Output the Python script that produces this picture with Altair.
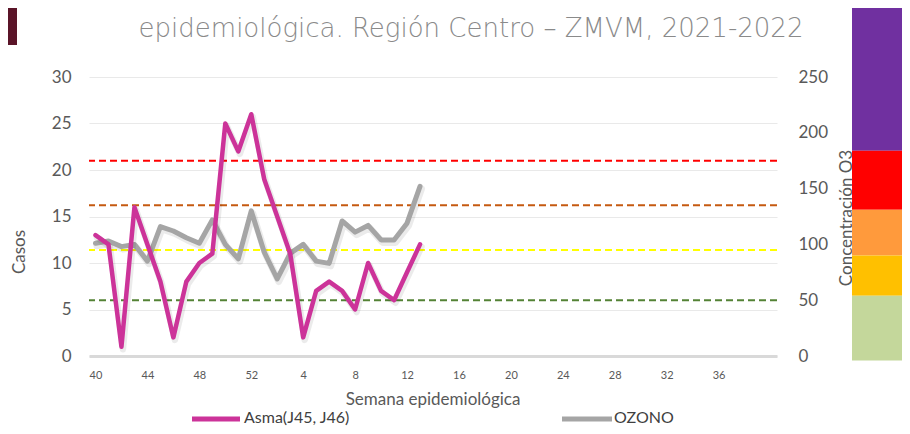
import altair as alt
import pandas as pd

# ---------------- data ----------------
weeks = [40, 41, 42, 43, 44, 45, 46, 47, 48, 49, 50, 51, 52, 1, 2, 3, 4, 5, 6, 7, 8, 9, 10, 11, 12, 13]
asma = [13, 12, 1, 16, 12, 8, 2, 8, 10, 11, 25, 22, 26, 19, 15, 11, 2, 7, 8, 7, 5, 10, 7, 6, 9, 12]
ozono = [101, 103, 98, 100, 85, 116, 112, 106, 101, 122, 100, 87, 130, 93, 69, 92, 100, 85, 83, 121, 111, 117, 104, 104, 119, 152]

umbral_valores = [175, 135, 95, 50]
umbral_colores = ["#FF0000", "#C55A11", "#FFFF00", "#548235"]

barra_arriba = [313, 184, 131, 90, 54]
barra_abajo = [184, 131, 90, 54, -4]
barra_colores = ["#7030A0", "#FF0000", "#FF9A3C", "#FFC000", "#C4D79B"]

x_ticks = [0, 4, 8, 12, 16, 20, 24, 28, 32, 36, 40, 44, 48]
casos_ticks = [0, 5, 10, 15, 20, 25, 30]
ozono_ticks = [0, 50, 100, 150, 200, 250]

titulo = "epidemiológica. Región Centro – ZMVM, 2021-2022"

FONT = "Lato"
GRAY_TXT = "#595959"

df = pd.DataFrame({"i": list(range(len(weeks))), "semana": weeks, "asma": asma, "ozono": ozono})
df_umb = pd.DataFrame({"u": umbral_valores, "c": umbral_colores})
df_bar = pd.DataFrame({"a": barra_arriba, "b": barra_abajo, "c": barra_colores})

x_axis = alt.Axis(values=x_ticks,
                  labelExpr="datum.value < 13 ? datum.value + 40 : datum.value - 12",
                  title=None, grid=False, ticks=False, domain=True,
                  domainColor="#D9D9D9", domainWidth=3,
                  labelFontSize=11, labelColor=GRAY_TXT, labelPadding=13, labelFont=FONT)
X = alt.X("i:Q", scale=alt.Scale(domain=[-0.5, 52.5], nice=False, zero=False), axis=x_axis)

right_axis = alt.Axis(orient="right", values=ozono_ticks, title=None, grid=False, ticks=False,
                      domain=False, labelPadding=21, labelFontSize=17, labelColor=GRAY_TXT,
                      labelFont=FONT)
oz_scale = alt.Scale(domain=[0, 250], nice=False, zero=False)

# right (ozone) group
umbrales = alt.Chart(df_umb).mark_rule(strokeWidth=2, strokeDash=[7, 4]).encode(
    y=alt.Y("u:Q", scale=oz_scale, axis=right_axis),
    color=alt.Color("c:N", scale=None),
)

oz_title = alt.Chart(pd.DataFrame({"t": ["Concentración O3"]})).mark_text(
    angle=270, font=FONT, fontSize=17, color=GRAY_TXT, baseline="middle", align="center"
).encode(text="t:N", x=alt.value(758), y=alt.value(141))

barra = alt.Chart(df_bar).mark_rect().encode(
    x=alt.value(763), x2=alt.value(830),
    y=alt.Y("a:Q", scale=oz_scale, axis=right_axis), y2="b:Q",
    color=alt.Color("c:N", scale=None),
)

oz_shadow = alt.Chart(df).mark_line(color="#000000", opacity=0.08, strokeWidth=7, strokeJoin="round",
                                    strokeCap="round", xOffset=1.5, yOffset=2.5).encode(
    x=X, y=alt.Y("ozono:Q", scale=oz_scale, axis=right_axis)
)
oz_line = alt.Chart(df).mark_line(color="#A5A5A5", strokeWidth=5, strokeJoin="round", strokeCap="round").encode(
    x=X, y=alt.Y("ozono:Q", scale=oz_scale, axis=right_axis)
)

right_group = alt.layer(umbrales, oz_title, barra, oz_shadow, oz_line)

# left (casos) group
casos_scale = alt.Scale(domain=[0, 30], nice=False, zero=True)
casos_axis = alt.Axis(orient="left", values=casos_ticks, title=None, grid=True,
                      gridColor="#E9E9E9", gridWidth=1, ticks=False, domain=False,
                      labelPadding=18, labelFontSize=17, labelColor=GRAY_TXT, labelFont=FONT)
asma_shadow = alt.Chart(df).mark_line(color="#000000", opacity=0.08, strokeWidth=6.5, strokeJoin="round",
                                      strokeCap="round", xOffset=1.5, yOffset=2.5).encode(
    x=X, y=alt.Y("asma:Q", scale=casos_scale, axis=casos_axis)
)
asma_line = alt.Chart(df).mark_line(color="#CC3399", strokeWidth=4.5, strokeJoin="round", strokeCap="round").encode(
    x=X, y=alt.Y("asma:Q", scale=casos_scale, axis=casos_axis),
)
left_group = alt.layer(asma_shadow, asma_line)

# decorations / texts
casos_title = alt.Chart(pd.DataFrame({"t": ["Casos"]})).mark_text(
    angle=270, font=FONT, fontSize=17, color=GRAY_TXT, baseline="middle", align="center"
).encode(text="t:N", x=alt.value(-69), y=alt.value(175))

x_title = alt.Chart(pd.DataFrame({"t": ["Semana epidemiológica"]})).mark_text(
    font=FONT, fontSize=17, color=GRAY_TXT, baseline="middle", align="center"
).encode(text="t:N", x=alt.value(344), y=alt.value(323))

main_title = alt.Chart(pd.DataFrame({"t": [titulo]})).mark_text(
    font="DejaVu Sans", fontSize=26, fontWeight=300, color="#8A8A8A", baseline="alphabetic", align="center"
).encode(text="t:N", x=alt.value(382), y=alt.value(-40))

leg_lines = alt.Chart(pd.DataFrame({"x1": [103, 473], "x2": [151, 523], "c": ["#CC3399", "#A5A5A5"]})).mark_rule(
    strokeWidth=5).encode(
    x=alt.X("x1:Q", scale=None), x2="x2:Q", y=alt.value(342), color=alt.Color("c:N", scale=None)
)
leg_text = alt.Chart(pd.DataFrame({"x": [155, 525], "t": ["Asma(J45, J46)", "OZONO"]})).mark_text(
    font=FONT, fontSize=16, color="#404040", baseline="middle", align="left"
).encode(text="t:N", x=alt.X("x:Q", scale=None), y=alt.value(341))

maroon = alt.Chart(pd.DataFrame({"k": [1]})).mark_rect(color="#5A1428").encode(
    x=alt.value(-81), x2=alt.value(-72), y=alt.value(-69), y2=alt.value(-32)
)

chart = alt.layer(
    right_group, left_group, casos_title, x_title, main_title, leg_lines, leg_text, maroon
).resolve_scale(y="independent").properties(
    width=688, height=279,
    padding={"left": 81, "top": 69, "right": 125, "bottom": 70},
    autosize=alt.AutoSizeParams(type="none"),
    background="white",
).configure_view(stroke=None)

chart.save("out.html", embed_options={"renderer": "svg", "actions": False})
